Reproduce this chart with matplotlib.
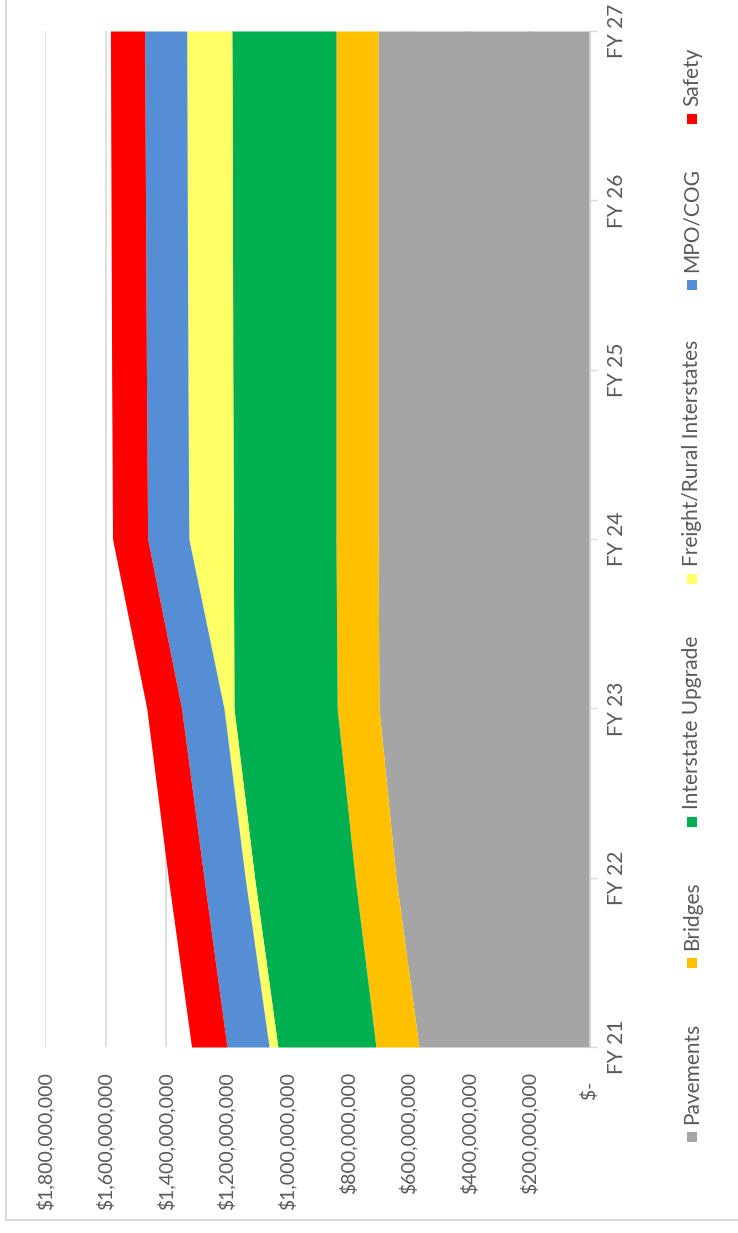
import matplotlib.pyplot as plt
import numpy as np
from matplotlib.patches import Rectangle
from matplotlib.lines import Line2D

# stacked area chart, shown turned a quarter turn like the source picture
years = ['FY 21', 'FY 22', 'FY 23', 'FY 24', 'FY 25', 'FY 26', 'FY 27']

# values in $ millions
pavements = [565, 641, 697, 700, 700, 700, 700]
bridges = [142, 135, 138, 139, 139, 139, 139]
interstate_upgrade = [324, 332, 341, 339, 341, 342, 344]
freight_rural = [29, 31, 33, 147, 148, 149, 149]
mpo_cog = [139, 136, 140, 136, 137, 138, 139]
safety = [117, 118, 115, 116, 115, 114, 113]

series = [pavements, bridges, interstate_upgrade, freight_rural, mpo_cog, safety]
names = ['Pavements', 'Bridges', 'Interstate Upgrade', 'Freight/Rural Interstates', 'MPO/COG', 'Safety']
colors = ['#A5A5A5', '#FFC000', '#00B050', '#FFFF66', '#558ED5', '#FF0000']

value_ticks = np.arange(0, 1800000001, 200000000)

plt.rcParams['font.family'] = ['Lato', 'DejaVu Sans']
text_color = '#595959'
grid_color = '#D9D9D9'
fs = 15

W, H = 738, 1233
fig = plt.figure(figsize=(W / 100, H / 100), dpi=100)
ax = fig.add_axes([45 / W, 1 - 1047 / H, (590 - 45) / W, (1047 - 31) / H])

pos = np.arange(len(years))
base = np.zeros(len(years))
for vals, c in zip(series, colors):
    top = base + np.array(vals) * 1e6
    ax.fill_betweenx(pos, base, top, color=c, lw=0)
    base = top

ax.set_xlim(value_ticks[-1], 0)
ax.set_ylim(0, len(years) - 1)
ax.set_axisbelow(True)
ax.grid(axis='x', color=grid_color, lw=1.2)

ax.set_xticks(value_ticks)
ax.set_xticklabels(['$-  '] + [f'${v:,.0f}' for v in value_ticks[1:]],
                   rotation=90, va='top', ha='center')
ax.tick_params(axis='x', length=0, pad=18, labelsize=14, labelcolor=text_color)

ax.yaxis.tick_right()
ax.set_yticks(pos)
ax.set_yticklabels(years, rotation=90, va='center', ha='left')
ax.tick_params(axis='y', length=5, width=1, color=grid_color, pad=7,
               labelsize=fs, labelcolor=text_color)

for s in ['top', 'left', 'bottom']:
    ax.spines[s].set_visible(False)
ax.spines['right'].set_color(grid_color)
ax.spines['right'].set_linewidth(1.2)

# legend drawn by hand so it can be turned like the rest
legend_y = [1137, 963, 822, 579, 285, 119]
legend_x = 692
sq = 10
for name, c, ly in zip(names, colors, legend_y):
    fig.patches.append(Rectangle(((legend_x - sq / 2) / W, 1 - (ly + sq / 2) / H), sq / W, sq / H,
                                 transform=fig.transFigure, color=c, lw=0))
    fig.text(legend_x / W, 1 - (ly - 13) / H, name, rotation=90, ha='center', va='bottom',
             fontsize=fs, color=text_color)

# chart area border (left and bottom edges visible in the crop)
fig.add_artist(Line2D([6.5 / W, 6.5 / W], [1, 1 - 1220 / H], transform=fig.transFigure,
                      color=grid_color, lw=1.5))
fig.add_artist(Line2D([6.5 / W, 1], [1 - 1220 / H, 1 - 1220 / H], transform=fig.transFigure,
                      color=grid_color, lw=1.5))

fig.savefig('out.png', dpi=100)
